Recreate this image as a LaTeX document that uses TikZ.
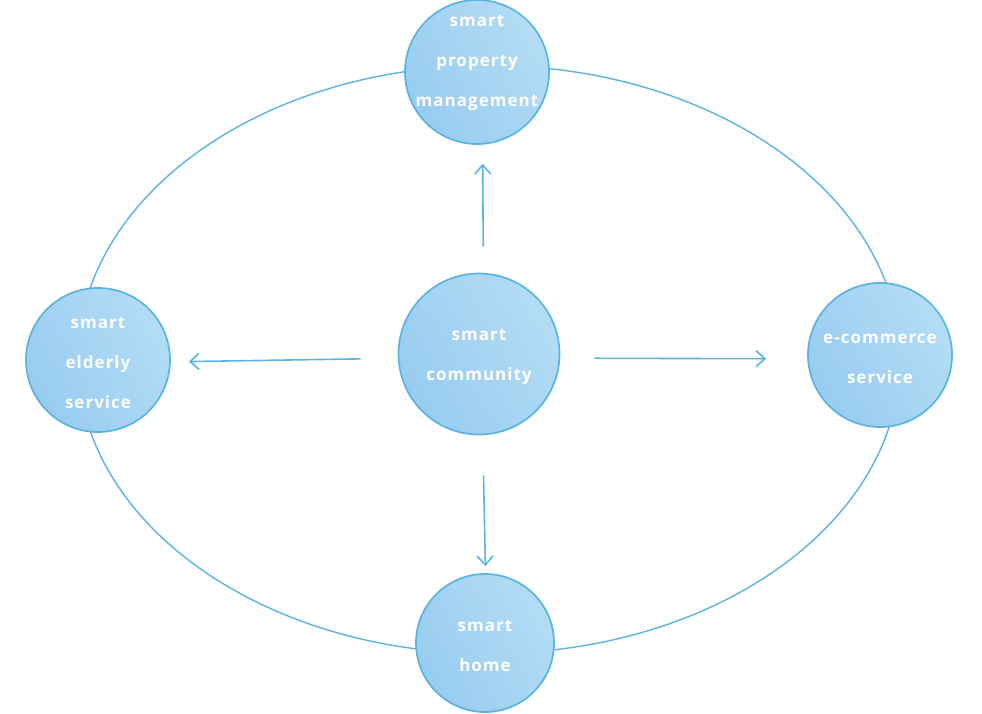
\documentclass[tikz,border=0pt]{standalone}
\usepackage{fontspec}
\setmainfont{Open Sans}
\usetikzlibrary{arrows.meta}
\definecolor{ringblue}{HTML}{5AB4E2}
\definecolor{balldark}{HTML}{98CCF0}
\definecolor{balllight}{HTML}{B4DCF4}
\newfontfamily\labelfont[LetterSpace=6]{Open Sans Bold}

\begin{document}
\begin{tikzpicture}
  [x=1pt,y=1pt,
   every node/.style={text=white,align=center,font={\labelfont\fontsize{17}{40}\selectfont}},
   ball/.style={circle,draw=ringblue,line width=1.7pt,left color=balldark,right color=balllight,shading angle=120},
   txt/.style={inner sep=0pt,yshift=-3pt}]
  \useasboundingbox (0,0) rectangle (982,713);
  \draw[ringblue,line width=1.4pt] (489,353.5) ellipse (411 and 294);

  \node[ball,minimum size=161pt,label={[txt]center:{smart\\community}}] (community) at (479,359) {};
  \node[ball,minimum size=144pt,label={[txt,yshift=12pt]center:{smart\\property\\management}}] (property) at (477,641) {};
  \node[ball,minimum size=144pt,label={[txt]center:{smart\\elderly\\service}}] (elderly) at (98,353) {};
  \node[ball,minimum size=144pt,label={[txt,yshift=-1pt]center:{e-commerce\\service}}] (commerce) at (880,358) {};
  \node[ball,minimum size=138pt,label={[txt]center:{smart\\home}}] (home) at (485,70) {};

  \foreach \to/\a/\b/\dx/\dy in {property/26/19/5/0,elderly/37/18/0/-3,commerce/34/41/0/-4,home/40/7/2/0}
    \draw[ringblue,line width=1.6pt,-{Straight Barb[length=9pt,width=16pt]},shorten <=\a pt,shorten >=\b pt,
      transform canvas={shift={(\dx pt,\dy pt)}}]
      (community) -- (\to);

\end{tikzpicture}
\end{document}
